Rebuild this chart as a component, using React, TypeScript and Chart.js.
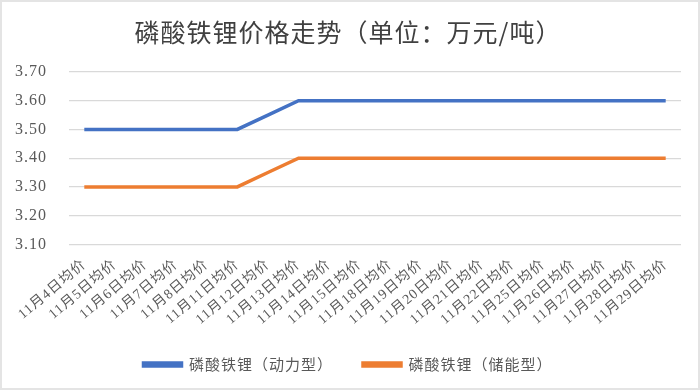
import React, { useEffect, useRef } from "react";
import { Chart, registerables } from "chart.js";

Chart.register(...registerables);

const categories: string[] = [
  "11月4日均价", "11月5日均价", "11月6日均价", "11月7日均价", "11月8日均价",
  "11月11日均价", "11月12日均价", "11月13日均价", "11月14日均价", "11月15日均价",
  "11月18日均价", "11月19日均价", "11月20日均价", "11月21日均价", "11月22日均价",
  "11月25日均价", "11月26日均价", "11月27日均价", "11月28日均价", "11月29日均价",
];

const powerType: number[] = [
  3.5, 3.5, 3.5, 3.5, 3.5, 3.5, 3.55, 3.6, 3.6, 3.6,
  3.6, 3.6, 3.6, 3.6, 3.6, 3.6, 3.6, 3.6, 3.6, 3.6,
];

const storageType: number[] = [
  3.3, 3.3, 3.3, 3.3, 3.3, 3.3, 3.35, 3.4, 3.4, 3.4,
  3.4, 3.4, 3.4, 3.4, 3.4, 3.4, 3.4, 3.4, 3.4, 3.4,
];

const seriesNames: string[] = ["磷酸铁锂（动力型）", "磷酸铁锂（储能型）"];
const titleText = "磷酸铁锂价格走势（单位：万元/吨）";
const yMin = 3.1;
const yMax = 3.7;
const yStep = 0.1;

const serifFamily = "'Liberation Serif', 'Noto Sans CJK SC', serif";
const cjkFamily = "'Noto Sans CJK SC', sans-serif";

const spacingPlugin = {
  id: "letterSpacing",
  beforeUpdate(chart: any) {
    chart.ctx.letterSpacing = "1px";
  },
  beforeLayout(chart: any) {
    chart.ctx.letterSpacing = "1px";
  },
  beforeDraw(chart: any) {
    chart.ctx.letterSpacing = "1px";
  },
};

export default function App() {
  const ref = useRef<HTMLCanvasElement | null>(null);

  useEffect(() => {
    if (!ref.current) return;
    const chart = new Chart(ref.current, {
      type: "line",
      data: {
        labels: categories,
        datasets: [
          {
            label: seriesNames[0],
            data: powerType,
            borderColor: "#4472C4",
            backgroundColor: "#4472C4",
            borderWidth: 3.5,
            pointRadius: 0,
            tension: 0,
          },
          {
            label: seriesNames[1],
            data: storageType,
            borderColor: "#ED7D31",
            backgroundColor: "#ED7D31",
            borderWidth: 3.5,
            pointRadius: 0,
            tension: 0,
          },
        ],
      },
      plugins: [spacingPlugin],
      options: {
        animation: false,
        responsive: false,
        maintainAspectRatio: false,
        layout: { padding: { left: 13, right: 17, top: 0, bottom: 6 } },
        plugins: {
          title: {
            display: true,
            text: titleText,
            color: "#404040",
            font: { family: cjkFamily, size: 25, weight: "normal" },
            padding: { top: 15, bottom: 25 },
          },
          legend: {
            position: "bottom",
            labels: {
              boxWidth: 38,
              boxHeight: 3,
              color: "#595959",
              font: { family: cjkFamily, size: 15 },
              padding: 30,
            },
          },
          tooltip: { enabled: false },
        },
        scales: {
          x: {
            offset: true,
            grid: { display: false },
            border: { display: false },
            afterFit(scale: any) {
              scale.paddingLeft = 0;
              scale.paddingRight = 0;
              scale.height = scale.height - 5;
            },
            ticks: {
              color: "#595959",
              font: { family: serifFamily, size: 14 },
              minRotation: 40,
              maxRotation: 40,
              autoSkip: false,
              padding: 4,
            },
          },
          y: {
            min: yMin,
            max: yMax,
            border: { display: false },
            grid: { color: "#d9d9d9", lineWidth: 1.2, drawTicks: false },
            afterFit(scale: any) {
              scale.width = 54;
            },
            ticks: {
              stepSize: yStep,
              color: "#595959",
              font: { family: serifFamily, size: 16 },
              padding: 22,
              callback: (v: any) => Number(v).toFixed(2),
            },
          },
        },
      },
    });
    return () => chart.destroy();
  }, []);

  return (
    <div
      style={{
        position: "fixed",
        left: 0,
        top: 0,
        width: 700,
        height: 390,
        boxSizing: "border-box",
        border: "2px solid #e4e4e4",
        background: "#fff",
      }}
    >
      <canvas ref={ref} width={696} height={386} style={{ display: "block" }} />
    </div>
  );
}
